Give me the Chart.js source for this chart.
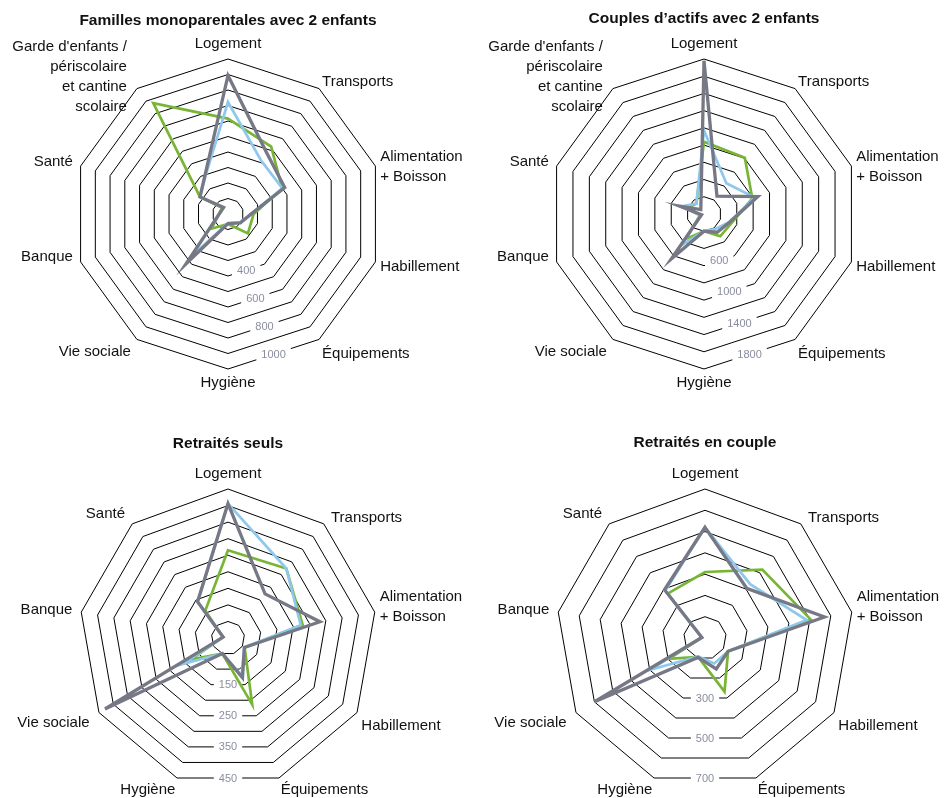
<!DOCTYPE html>
<html lang="fr">
<head>
<meta charset="utf-8">
<title>Budgets types</title>
<script src="https://cdn.jsdelivr.net/npm/chart.js@4.4.1/dist/chart.umd.min.js"></script>
<style>
  html, body { margin: 0; padding: 0; background: #ffffff; }
  #page { position: relative; width: 944px; height: 798px; overflow: hidden; background: #ffffff; }
  #page canvas { position: absolute; }
</style>
</head>
<body>
<div id="page">
  <canvas id="mono"></canvas>
  <canvas id="couples"></canvas>
  <canvas id="seuls"></canvas>
  <canvas id="retraitesCouple"></canvas>
</div>
<script>
// ---- Catégories ----
const postesAvecGarde = [
  ['Logement'], ['Transports'], ['Alimentation', '+ Boisson'], ['Habillement'],
  ['Équipements'], ['Hygiène'], ['Vie sociale'], ['Banque'], ['Santé'],
  ["Garde d'enfants /", 'périscolaire', 'et cantine', 'scolaire']
];
const postesRetraites = [
  ['Logement'], ['Transports'], ['Alimentation', '+ Boisson'], ['Habillement'],
  ['Équipements'], ['Hygiène'], ['Vie sociale'], ['Banque'], ['Santé']
];

// ---- Familles monoparentales avec 2 enfants ----
const monoVert  = [564, 474, 367, 173, 219, 116, 181, 40, 190, 820];
const monoBleu  = [671, 363, 369, 160, 130, 110, 400, 30, 190, 245];
const monoGris  = [842, 424, 385, 160, 135, 113, 461, 30, 190, 251];
const monoGraduations = [400, 600, 800, 1000];

// ---- Couples d'actifs avec 2 enfants ----
const couplesVert = [838, 806, 590, 338, 320, 200, 358, 50, 215, 150];
const couplesBleu = [970, 442, 620, 306, 217, 194, 455, 40, 285, 150];
const couplesGris = [1780, 256, 657, 312, 261, 200, 644, 30, 298, 63];
const couplesGraduations = [600, 1000, 1400, 1800];

// ---- Retraités seuls ----
const seulsVert = [265, 274, 229, 58, 214, 50, 130, 15, 107];
const seulsBleu = [406, 274, 223, 57, 120, 50, 158, 15, 143];
const seulsGris = [406, 174, 282, 57, 128, 50, 429, 15, 143];
const seulsGraduations = [150, 250, 350, 450];

// ---- Retraités en couple ----
const coupleVert = [310, 419, 504, 125, 268, 95, 195, 15, 272];
const coupleBleu = [520, 330, 485, 125, 127, 92, 301, 15, 290];
const coupleGris = [520, 305, 570, 125, 155, 97, 599, 15, 296];
const coupleGraduations = [300, 500, 700];

// ---- Styles ----
const FONT = '"Liberation Sans", Arial, sans-serif';
const VERT = '#78b535';
const BLEU = '#8ec8ec';
const GRIS = '#767985';
const TEXTE = '#111111';
const GRADUATION = '#8a8d9e';

// Fine placement of the category names (dx, dy in px), per polygon type
const reglagesDix = [[0, 0], [0, 5], [0, 5], [0, 0], [0, 2], [0, -1], [-3, 0], [-3, -10], [-3, 0], [-7, 0]];
const reglagesNeuf = [[0, 0], [4, 5], [0, -3], [0, 6], [0, -2], [0, -2], [-5, 3], [-4, 0], [-4, 1]];

// Category names around the polygon, placed just outside each outer vertex
const postesPlugin = {
  id: 'postes',
  afterDraw(chart, args, opts) {
    const scale = chart.scales.r;
    const ctx = chart.ctx;
    const lh = opts.lineHeight;
    ctx.save();
    ctx.font = opts.size + 'px ' + FONT;
    ctx.fillStyle = TEXTE;
    ctx.textBaseline = 'middle';
    chart.data.labels.forEach((lines, i) => {
      const p = scale.getPointPosition(i, scale.drawingArea + opts.pad);
      const a = scale.getIndexAngle(i);
      const s = Math.sin(a), c = Math.cos(a);
      const [dx, dy] = opts.reglages[i] || [0, 0];
      ctx.textAlign = Math.abs(s) < 0.05 ? 'center' : (s > 0 ? 'left' : 'right');
      const h = lines.length * lh;
      const yc = p.y - c * lh / 2 + dy;
      lines.forEach((t, k) => ctx.fillText(t, p.x + dx, yc - h / 2 + lh * (k + 0.5)));
    });
    ctx.restore();
  }
};

// Value labels sitting on the middle of the lower polygon edge
const graduationsPlugin = {
  id: 'graduations',
  beforeDatasetsDraw(chart, args, opts) {
    const scale = chart.scales.r;
    const ctx = chart.ctx;
    const n = chart.data.labels.length;
    const half = Math.PI / n;
    ctx.save();
    ctx.font = opts.size + 'px ' + FONT;
    ctx.textAlign = 'center';
    ctx.textBaseline = 'middle';
    opts.values.forEach(v => {
      const d = scale.getDistanceFromCenterForValue(v) * Math.cos(half);
      const p = scale.getPointPosition(4, d, half);
      const label = String(v);
      const w = ctx.measureText(label).width;
      ctx.fillStyle = '#ffffff';
      ctx.fillRect(p.x - w / 2 - 5, p.y - opts.size / 2 - 1, w + 10, opts.size + 2);
      ctx.fillStyle = GRADUATION;
      ctx.fillText(label, p.x, p.y + 0.5);
    });
    ctx.restore();
  }
};

// Vertical offset of the series layer relative to the grid
const decalagePlugin = {
  id: 'decalage',
  beforeDatasetsDraw(chart, args, opts) {
    chart.ctx.save();
    chart.ctx.translate(0, opts.dy || 0);
  },
  afterDatasetsDraw(chart) {
    chart.ctx.restore();
  }
};

function radar(id, frame, labels, vert, bleu, gris, scaleMax, step, graduations, titre, reglages) {
  const canvas = document.getElementById(id);
  canvas.width = frame.w;
  canvas.height = frame.h;
  canvas.style.left = frame.x + 'px';
  canvas.style.top = frame.y + 'px';
  const chartTop = frame.cy - frame.r - frame.y;
  const titleLH = 20;
  const titleTop = Math.round(frame.titleY - frame.y - titleLH / 2);
  return new Chart(canvas, {
    type: 'radar',
    data: {
      labels: labels,
      datasets: [
        { data: gris, borderColor: GRIS, borderWidth: 3.3 },
        { data: bleu, borderColor: BLEU, borderWidth: 2.7 },
        { data: vert, borderColor: VERT, borderWidth: 2.7 }
      ]
    },
    options: {
      responsive: false,
      animation: false,
      devicePixelRatio: 1,
      events: [],
      layout: { padding: { left: 0, right: 0, top: 0, bottom: frame.h - chartTop - 2 * frame.r } },
      elements: {
        line: { tension: 0, fill: false, borderJoinStyle: 'miter' },
        point: { radius: 0, hoverRadius: 0 }
      },
      plugins: {
        legend: { display: false },
        tooltip: { enabled: false },
        title: {
          display: true,
          text: titre,
          color: '#111111',
          font: { family: FONT, size: 15.5, weight: 'bold', lineHeight: titleLH + 'px' },
          padding: { top: titleTop, bottom: chartTop - titleTop - titleLH }
        },
        postes: { size: 15, lineHeight: 20, pad: 5, reglages: reglages },
        graduations: { values: graduations, size: 11 },
        decalage: { dy: frame.dy || 0 }
      },
      scales: {
        r: {
          min: 0,
          max: scaleMax,
          ticks: { display: false, stepSize: step },
          grid: { circular: false, color: '#000000', lineWidth: 1 },
          angleLines: { display: false },
          pointLabels: { display: false }
        }
      }
    },
    plugins: [graduationsPlugin, decalagePlugin, postesPlugin]
  });
}

radar('mono', { x: -12, y: 0, w: 480, h: 400, cy: 214, r: 155, titleY: 21, dy: -8 },
  postesAvecGarde, monoVert, monoBleu, monoGris, 1000, 100, monoGraduations,
  'Familles monoparentales avec 2 enfants', reglagesDix);

radar('couples', { x: 464, y: 0, w: 480, h: 400, cy: 214, r: 155, titleY: 19 },
  postesAvecGarde, couplesVert, couplesBleu, couplesGris, 1800, 200, couplesGraduations,
  'Couples d’actifs avec 2 enfants', reglagesDix);

radar('seuls', { x: -12, y: 400, w: 480, h: 398, cy: 638, r: 149, titleY: 444 },
  postesRetraites, seulsVert, seulsBleu, seulsGris, 450, 50, seulsGraduations,
  'Retraités seuls', reglagesNeuf);

radar('retraitesCouple', { x: 465, y: 400, w: 480, h: 398, cy: 638, r: 149, titleY: 443 },
  postesRetraites, coupleVert, coupleBleu, coupleGris, 700, 100, coupleGraduations,
  'Retraités en couple', reglagesNeuf);
</script>
</body>
</html>
